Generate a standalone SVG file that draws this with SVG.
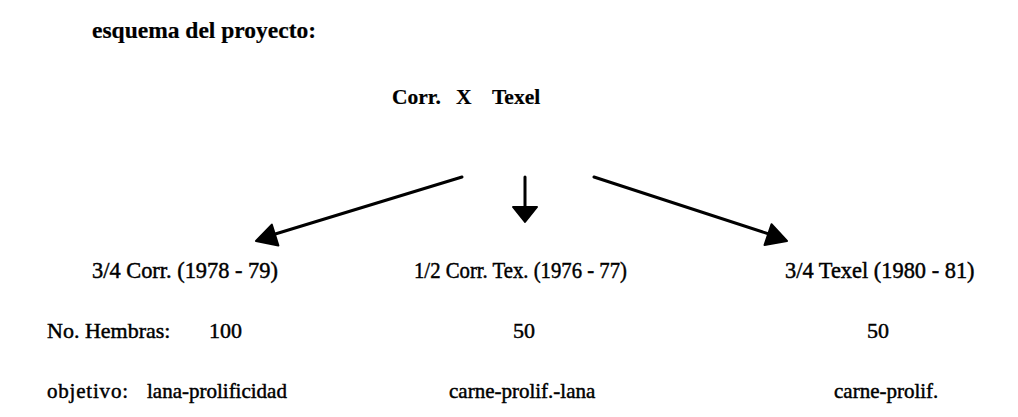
<svg xmlns="http://www.w3.org/2000/svg" width="1018" height="417" viewBox="0 0 1018 417">
<style>
text{font-family:"Liberation Serif","Times New Roman",serif;fill:#000;stroke:#000;stroke-width:0.45}
.t{font-size:23.5px;font-weight:bold;stroke-width:0.2}
.b{font-size:21.5px;font-weight:bold;stroke-width:0.2}
.r{font-size:22.4px}
.n{font-size:22px}
.o{font-size:21px}
.ln{stroke:#000;stroke-width:3;fill:none;stroke-linecap:round}
.hd{fill:#000;stroke:#000;stroke-width:2;stroke-linejoin:round}
</style>
<rect width="1018" height="417" fill="#fff"/>
<g id="title"><text class="t" x="92" y="38">esquema del proyecto:</text></g>
<g id="cross"><text class="b" x="392" y="104">Corr.</text><text class="b" x="456" y="104">X</text><text class="b" x="492" y="104">Texel</text></g>
<g id="connectors">
<line class="ln" x1="462" y1="177" x2="272" y2="235"/>
<polygon class="hd" points="256,241 278.4,245.6 271.8,224.6"/>
<line class="ln" x1="525" y1="177" x2="525" y2="208"/>
<polygon class="hd" points="513,207 537,207 525,222"/>
<line class="ln" x1="594" y1="177" x2="772" y2="235"/>
<polygon class="hd" points="787,241 764.5,245.1 771.5,224.3"/>
</g>
<g id="n1"><text class="r" x="92" y="278">3/4 Corr. (1978 - 79)</text></g>
<g id="n2"><text class="r" x="414" y="278" textLength="213" lengthAdjust="spacingAndGlyphs">1/2 Corr. Tex. (1976 - 77)</text></g>
<g id="n3"><text class="r" x="785" y="278">3/4 Texel (1980 - 81)</text></g>
<g id="row2">
<text class="n" x="47" y="338">No. Hembras:</text>
<text class="n" x="209" y="338">100</text>
<text class="n" x="513" y="338">50</text>
<text class="n" x="867" y="338">50</text>
</g>
<g id="row3">
<text class="o" x="47" y="398" letter-spacing="0.8">objetivo:</text>
<text class="o" x="147" y="398">lana-prolificidad</text>
<text class="o" x="449" y="398">carne-prolif.-lana</text>
<text class="o" x="834" y="398">carne-prolif.</text>
</g>
</svg>
